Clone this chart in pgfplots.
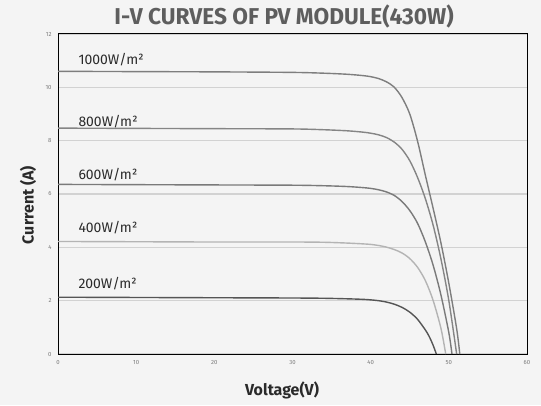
\documentclass[border=0pt]{standalone}
\usepackage{pgfplots}
\pgfplotsset{compat=1.18}
\usepackage{fontspec}
\setmainfont{Fira Sans}
\definecolor{bg}{HTML}{F4F4F4}
\definecolor{gridc}{HTML}{D2D2D2}
\definecolor{c1000}{HTML}{7E7E7E}
\definecolor{c800}{HTML}{858585}
\definecolor{c600}{HTML}{7A7A7A}
\definecolor{c400}{HTML}{B4B4B4}
\definecolor{c200}{HTML}{555555}
\definecolor{titlec}{HTML}{5E5E5E}
\definecolor{tickc}{HTML}{7A7A7A}
\definecolor{labc}{HTML}{2A2A2A}
\begin{document}
\begin{tikzpicture}[x=1bp,y=1bp]
\fill[bg] (-58,-51) rectangle (483,354);
\begin{axis}[
  at={(0,0)}, anchor=south west,
  scale only axis, width=469bp, height=320bp,
  xmin=0, xmax=60, ymin=0, ymax=12,
  xtick={0,10,...,60}, ytick={0,2,...,12},
  ymajorgrids, grid style={gridc, line width=1.5bp},
  major tick length=0pt,
  axis line style={black, line width=1bp},
  tick label style={font=\fontsize{6}{7}\selectfont, text=tickc},
  /pgf/number format/assume math mode=true,
  xticklabel style={yshift=-3bp},
  yticklabel style={xshift=-3bp},
  every axis plot/.append style={line width=1.4bp, smooth, no marks},
  clip=true,
]
\addplot[c1000] coordinates {
(0,10.60) (10,10.59) (20,10.58) (30,10.56) (34,10.53) (37,10.49) (39,10.44) (40,10.40)
(41,10.33) (42,10.21) (43,10.01) (44,9.62) (45,9.00) (46,7.98) (47,6.70)
(48,5.45) (49,4.15) (50,2.65) (51,0.95) (51.4,0)};
\addplot[c800] coordinates {
(0,8.47) (10,8.46) (20,8.45) (30,8.44) (34,8.41) (37,8.37) (39,8.32) (40,8.28)
(41,8.22) (42,8.12) (43,7.95) (44,7.68) (45,7.25) (46,6.62) (47,5.82)
(48,4.82) (49,3.55) (50,2.0) (51,0)};
\addplot[c600] coordinates {
(0,6.36) (10,6.35) (20,6.34) (30,6.33) (34,6.31) (37,6.28) (39,6.24) (40,6.21)
(41,6.16) (42,6.08) (43,5.95) (44,5.72) (45,5.38) (46,4.90) (47,4.20)
(48,3.32) (49,2.2) (50,0.8) (50.4,0)};
\addplot[c400] coordinates {
(0,4.22) (10,4.21) (20,4.20) (30,4.20) (34,4.19) (37,4.16) (39,4.13) (40,4.11)
(41,4.07) (42,4.01) (43,3.92) (44,3.79) (45,3.58) (46,3.25) (47,2.75)
(48,2.0) (49,0.95) (49.6,0)};
\addplot[c200] coordinates {
(0,2.13) (10,2.12) (20,2.11) (30,2.10) (34,2.09) (37,2.07) (39,2.05) (40,2.03)
(41,2.00) (42,1.95) (43,1.87) (44,1.75) (45,1.57) (46,1.30) (47,0.90)
(47.5,0.65) (48,0.32) (48.4,0)};
\begin{scope}[every node/.style={anchor=west, font=\fontsize{14}{15}\selectfont, text=labc, inner sep=0pt}]
\node at (axis cs:2.6,11.05) {1000W/m²};
\node at (axis cs:2.6,8.72) {800W/m²};
\node at (axis cs:2.6,6.73) {600W/m²};
\node at (axis cs:2.6,4.74) {400W/m²};
\node at (axis cs:2.6,2.63) {200W/m²};
\end{scope}
\end{axis}
\node[font=\fontsize{23}{25}\selectfont\bfseries, text=titlec, inner sep=0pt] at (226,338) {\scalebox{0.99}[1]{I-V CURVES OF PV MODULE(430W)}};
\node[font=\fontsize{16}{18}\selectfont\bfseries, text=labc, inner sep=0pt] at (224,-36) {Voltage(V)};
\node[font=\fontsize{16}{18}\selectfont\bfseries, text=labc, inner sep=0pt, rotate=90] at (-30,149) {Current (A)};
\end{tikzpicture}
\end{document}
